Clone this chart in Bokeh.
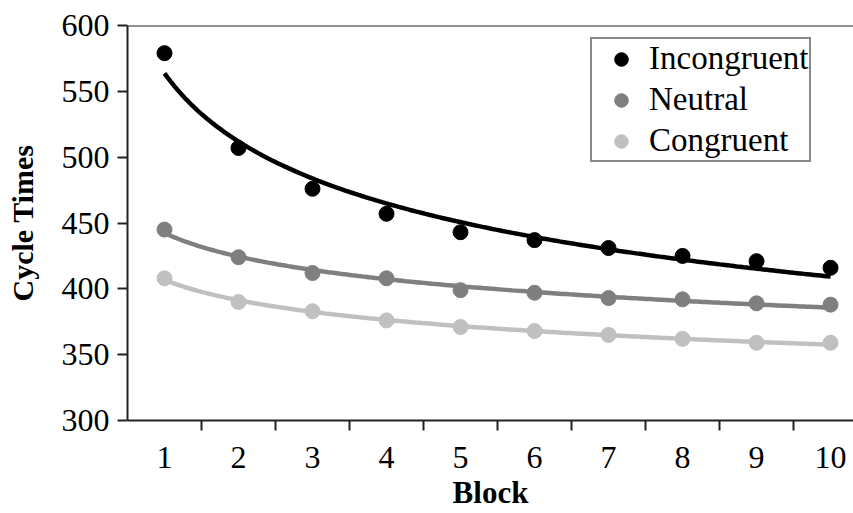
import numpy as np
from bokeh.plotting import figure
from bokeh.models import Range1d, FixedTicker, Span, Legend, LegendItem
from bokeh.embed import file_html
from bokeh.resources import INLINE

blocks = [1, 2, 3, 4, 5, 6, 7, 8, 9, 10]
incongruent = [579, 507, 476, 457, 443, 437, 431, 425, 421, 416]
neutral = [445, 424, 412, 408, 399, 397, 393, 392, 389, 388]
congruent = [408, 390, 383, 376, 371, 368, 365, 362, 359, 359]
y_ticks = [300, 350, 400, 450, 500, 550, 600]

series = [
    ("Incongruent", incongruent, "#000000"),
    ("Neutral", neutral, "#7f7f7f"),
    ("Congruent", congruent, "#c0c0c0"),
]

FONT = "Liberation Serif"

p = figure(width=853, height=513, output_backend="svg", toolbar_location=None,
           x_range=Range1d(0.5, 10.31), y_range=Range1d(300, 600),
           min_border_left=127, min_border_right=0, min_border_top=25, min_border_bottom=93)
p.outline_line_color = None
p.grid.visible = False
p.background_fill_color = "white"
p.border_fill_color = "white"

xs = np.array(blocks, dtype=float)
items = []
for name, ys, color in series:
    # power trendline fitted to the data (as in a spreadsheet trendline)
    b, lna = np.polyfit(np.log(xs), np.log(np.array(ys, dtype=float)), 1)
    xf = np.linspace(xs.min(), xs.max(), 200)
    yf = np.exp(lna) * xf ** b
    p.line(xf, yf, line_color=color, line_width=4.5)
    r = p.scatter(blocks, ys, size=15, fill_color=color, line_color=color, marker="circle")
    items.append(LegendItem(label=name, renderers=[r]))

# top frame line
p.add_layout(Span(location=600, dimension="width", line_color="#222222", line_width=2))

xa = p.xaxis[0]
xa.ticker = FixedTicker(ticks=blocks, minor_ticks=[b_ + 0.5 for b_ in blocks[:-1]])
xa.major_tick_out = 0
xa.major_tick_in = 0
xa.minor_tick_out = 10
xa.minor_tick_in = 0
xa.minor_tick_line_color = "#222222"
xa.minor_tick_line_width = 2
xa.axis_line_color = "#222222"
xa.axis_line_width = 2
xa.major_label_text_font = FONT
xa.major_label_text_font_size = "32px"
xa.major_label_text_color = "black"
xa.major_label_standoff = 16
xa.axis_label = "Block"
xa.axis_label_text_font = FONT
xa.axis_label_text_font_style = "bold"
xa.axis_label_text_font_size = "31px"
xa.axis_label_text_color = "black"
xa.axis_label_standoff = 4

ya = p.yaxis[0]
ya.ticker = FixedTicker(ticks=y_ticks, minor_ticks=[])
ya.major_tick_out = 10
ya.major_tick_in = 0
ya.major_tick_line_color = "#222222"
ya.major_tick_line_width = 2
ya.axis_line_color = "#222222"
ya.axis_line_width = 2
ya.major_label_text_font = FONT
ya.major_label_text_font_size = "32px"
ya.major_label_text_color = "black"
ya.major_label_standoff = 8
ya.axis_label = "Cycle Times"
ya.axis_label_text_font = FONT
ya.axis_label_text_font_style = "bold"
ya.axis_label_text_font_size = "30px"
ya.axis_label_text_color = "black"
ya.axis_label_standoff = 20

legend = Legend(items=items, location=(463, 258))
legend.label_text_font = FONT
legend.label_text_font_size = "33px"
legend.label_text_color = "black"
legend.border_line_color = "#111111"
legend.border_line_width = 2
legend.background_fill_alpha = 1
legend.glyph_width = 56
legend.glyph_height = 34
legend.label_standoff = 0
legend.spacing = 4
legend.padding = 1
legend.margin = 0
p.add_layout(legend)

open("out.html", "w").write(file_html(p, INLINE))
